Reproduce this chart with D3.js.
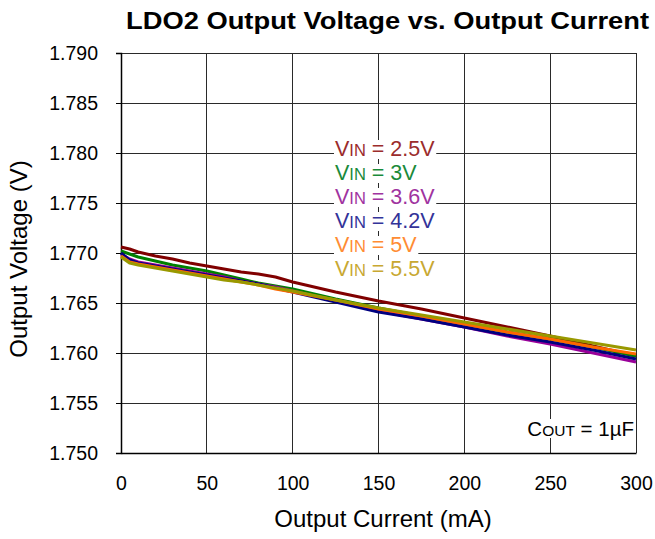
<!DOCTYPE html>
<html>
<head>
<meta charset="utf-8">
<script src="https://cdn.jsdelivr.net/npm/d3@7"></script>
<style>
  body { margin: 0; background: #fff; }
  svg { display: block; font-family: "Liberation Sans", Arial, sans-serif; }
</style>
</head>
<body>
<svg id="chart" width="655" height="539"></svg>
<script>
const currents = [0, 5, 10, 20, 30, 40, 50, 60, 70, 80, 90, 100, 125, 150, 175, 200, 225, 250, 275, 300];
const vin25 = [1.7706, 1.7704, 1.7701, 1.7697, 1.7694, 1.7690, 1.7687, 1.7684, 1.7681, 1.7679, 1.7676, 1.7671, 1.7661, 1.7652, 1.7644, 1.7635, 1.7626, 1.7617, 1.7607, 1.7597];
const vin3  = [1.7702, 1.7699, 1.7696, 1.7692, 1.7688, 1.7685, 1.7682, 1.7678, 1.7674, 1.7670, 1.7667, 1.7664, 1.7654, 1.7645, 1.7637, 1.7629, 1.7621, 1.7614, 1.7606, 1.7597];
const vin36 = [1.7699, 1.7694, 1.7691, 1.7688, 1.7685, 1.7682, 1.7679, 1.7676, 1.7672, 1.7669, 1.7666, 1.7662, 1.7652, 1.7642, 1.7634, 1.7626, 1.7617, 1.7609, 1.7600, 1.7591];
const vin42 = [1.7700, 1.7693, 1.7690, 1.7687, 1.7684, 1.7681, 1.7678, 1.7675, 1.7672, 1.7669, 1.7665, 1.7661, 1.7651, 1.7641, 1.7634, 1.7626, 1.7618, 1.7611, 1.7603, 1.7594];
const vin5  = [1.7697, 1.7691, 1.7689, 1.7686, 1.7683, 1.7680, 1.7677, 1.7674, 1.7671, 1.7668, 1.7664, 1.7661, 1.7653, 1.7644, 1.7637, 1.7629, 1.7621, 1.7614, 1.7606, 1.7599];
const vin55 = [1.7696, 1.7690, 1.7688, 1.7685, 1.7682, 1.7679, 1.7676, 1.7673, 1.7671, 1.7668, 1.7665, 1.7662, 1.7653, 1.7645, 1.7638, 1.7631, 1.7624, 1.7617, 1.7610, 1.7603];
const seriesNames = ["2.5V", "3V", "3.6V", "4.2V", "5V", "5.5V"];
const seriesValues = [vin25, vin3, vin36, vin42, vin5, vin55];
const lineColors = ["#800000", "#008000", "#990099", "#000080", "#ff6600", "#999900"];
const textColors = ["#9b2c2c", "#1a8a3a", "#a033a0", "#333399", "#ff8c33", "#c8a832"];
const xTicks = [0, 50, 100, 150, 200, 250, 300];
const yTicks = [1.750, 1.755, 1.760, 1.765, 1.770, 1.775, 1.780, 1.785, 1.790];

const FONT = "Liberation Sans, Arial, sans-serif";
const svg = d3.select("#chart");
const L = 121, R = 636, T = 53, B = 453;
const x = d3.scaleLinear().domain([0, 300]).range([L, R]);
const y = d3.scaleLinear().domain([1.750, 1.790]).range([B, T]);

// grid
svg.append("g").selectAll("line").data(xTicks).join("line")
  .attr("x1", d => x(d)).attr("x2", d => x(d)).attr("y1", T).attr("y2", B)
  .attr("stroke", "#2a2a2a").attr("stroke-width", 1).attr("shape-rendering", "crispEdges");
svg.append("g").selectAll("line").data(yTicks).join("line")
  .attr("x1", L).attr("x2", R).attr("y1", d => y(d)).attr("y2", d => y(d))
  .attr("stroke", "#2a2a2a").attr("stroke-width", 1).attr("shape-rendering", "crispEdges");

// axes
const yAxis = d3.axisLeft(y).tickValues(yTicks).tickFormat(d3.format(".3f")).tickSize(5).tickPadding(18);
const gy = svg.append("g").attr("transform", `translate(${L},0)`).call(yAxis);
gy.select(".domain").attr("stroke", "#000").attr("stroke-width", 1.5);
gy.selectAll("text").attr("font-size", 19.5).attr("fill", "#000").attr("font-family", FONT);

const xAxis = d3.axisBottom(x).tickValues(xTicks).tickSize(0).tickPadding(23);
const gx = svg.append("g").attr("transform", `translate(0,${B})`).call(xAxis);
gx.select(".domain").attr("stroke", "#000").attr("stroke-width", 1.5);
gx.selectAll("text").attr("font-size", 19.5).attr("fill", "#000").attr("font-family", FONT);

// lines
const line = d3.line().x((d, i) => x(currents[i])).y(d => y(d));
seriesValues.forEach((vals, k) => {
  svg.append("path").datum(vals).attr("d", line)
    .attr("fill", "none").attr("stroke", lineColors[k]).attr("stroke-width", 3)
    .attr("stroke-linejoin", "round");
});

// legend labels
const legendG = svg.append("g");
seriesNames.forEach((name, k) => {
  const g = legendG.append("g");
  const t = g.append("text").attr("x", 335).attr("y", 156 + k * 24)
    .attr("fill", textColors[k]).attr("font-size", 21.5).attr("font-family", FONT);
  t.append("tspan").text("V");
  t.append("tspan").attr("font-size", 16.5).text("IN");
  t.append("tspan").text(" = " + name);
  const bb = t.node().getBBox();
  g.insert("rect", "text").attr("x", bb.x - 1).attr("y", bb.y + 3).attr("width", bb.width + 2).attr("height", bb.height - 5).attr("fill", "#fff");
});

// Cout label
const cg = svg.append("g");
const ct = cg.append("text").attr("x", 634).attr("y", 436).attr("text-anchor", "end").attr("font-size", 20.5).attr("fill", "#000").attr("font-family", FONT);
ct.append("tspan").text("C");
ct.append("tspan").attr("font-size", 15.5).text("OUT");
ct.append("tspan").text(" = 1\u00B5F");
const cbb = ct.node().getBBox();
cg.insert("rect", "text").attr("x", cbb.x - 1).attr("y", cbb.y + 2).attr("width", cbb.width + 1).attr("height", cbb.height - 4).attr("fill", "#fff");

// titles
svg.append("text").attr("x", 126).attr("y", 29)
  .attr("font-size", 23.5).attr("font-weight", "bold").attr("font-family", FONT)
  .attr("textLength", 523).attr("lengthAdjust", "spacingAndGlyphs")
  .text("LDO2 Output Voltage vs. Output Current");
svg.append("text").attr("x", 383).attr("y", 527).attr("text-anchor", "middle")
  .attr("font-size", 24).attr("font-family", FONT).text("Output Current (mA)");
svg.append("text").attr("transform", "translate(27,259) rotate(-90)").attr("text-anchor", "middle")
  .attr("font-size", 24).attr("font-family", FONT).text("Output Voltage (V)");
</script>
</body>
</html>
